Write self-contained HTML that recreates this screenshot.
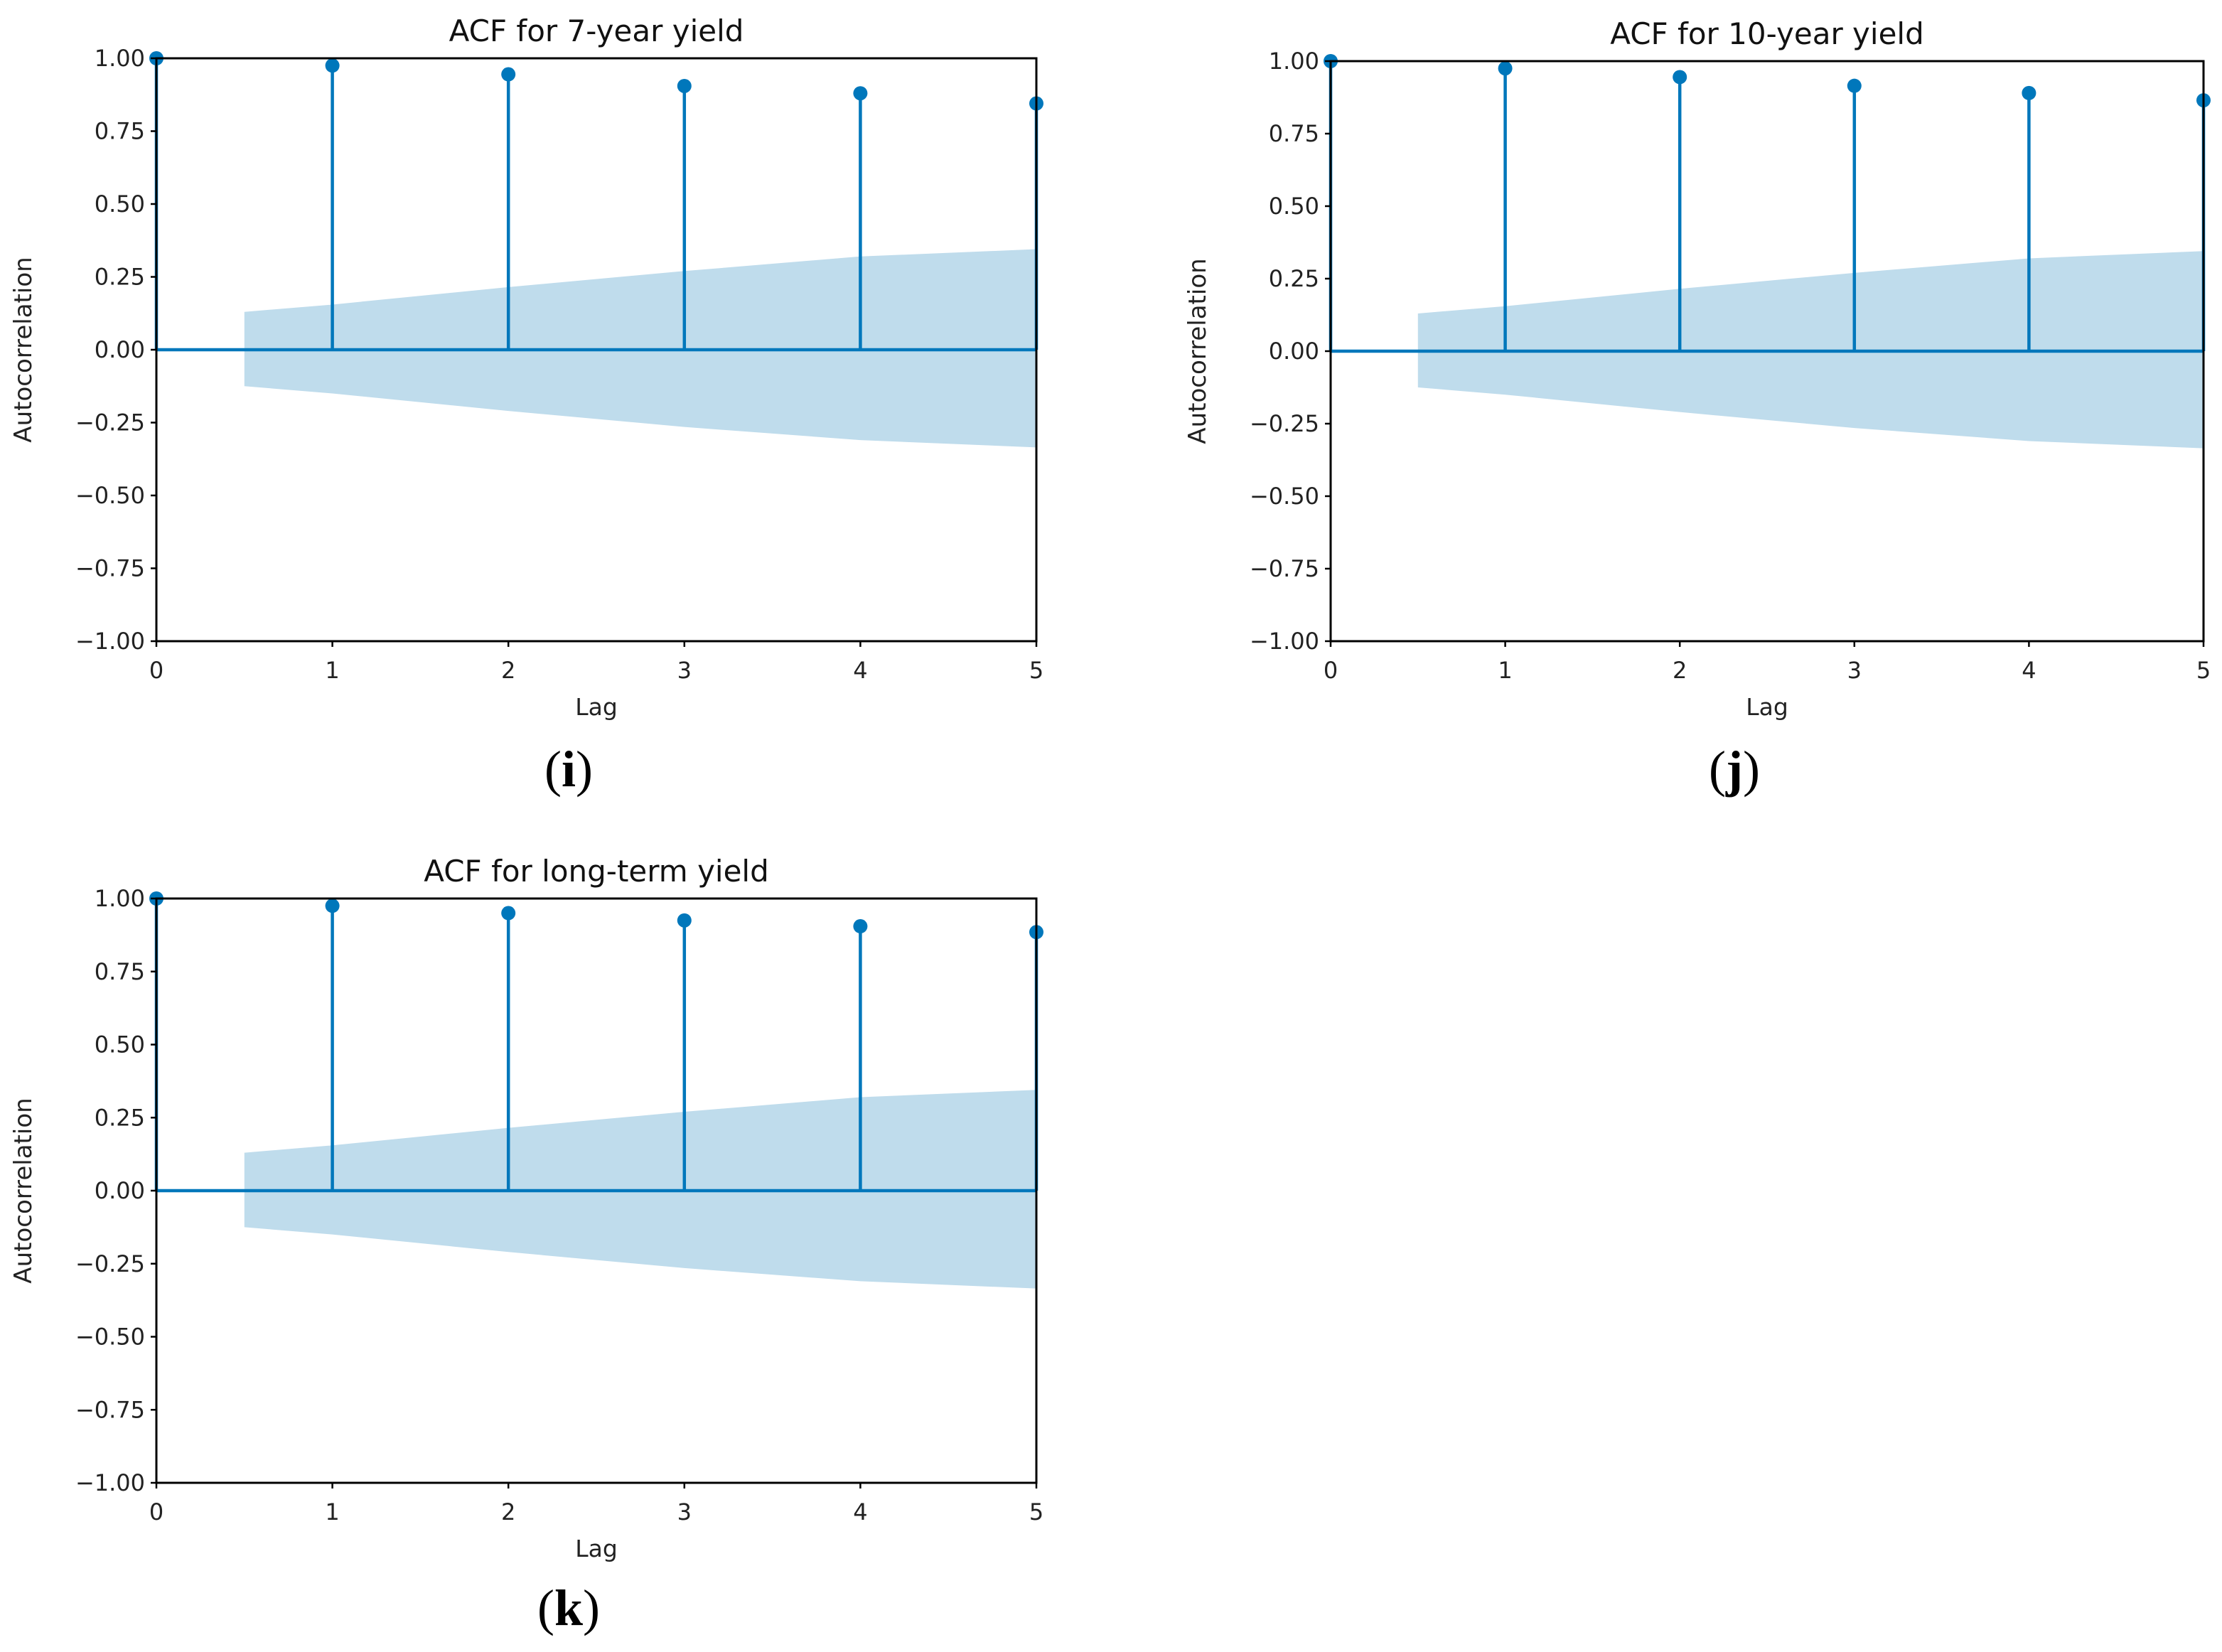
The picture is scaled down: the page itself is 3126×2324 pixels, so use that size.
<!DOCTYPE html>
<html><head><meta charset="utf-8"><style>
html,body{margin:0;padding:0;background:#fff;}
svg{display:block;font-family:"DejaVu Sans","Liberation Sans",sans-serif;}
</style></head><body>
<svg id="fig" width="3126" height="2324" viewBox="0 0 3126 2324"></svg>
<script>
const lags = [0,1,2,3,4,5];
const acf7 = [1.0,0.975,0.945,0.905,0.88,0.845];
const acf10 = [1.0,0.975,0.945,0.915,0.89,0.865];
const acfLong = [1.0,0.975,0.95,0.925,0.905,0.885];
const bandLags = [0.5,1,2,3,4,5];
const bandUpper = [0.13,0.155,0.215,0.27,0.32,0.345];
const bandLower = [-0.125,-0.15,-0.21,-0.265,-0.31,-0.335];
const yTicks = [1.0,0.75,0.5,0.25,0,-0.25,-0.5,-0.75,-1.0];
const yTickLabels = ["1.00","0.75","0.50","0.25","0.00","\u22120.25","\u22120.50","\u22120.75","\u22121.00"];
const xTickLabels = ["0","1","2","3","4","5"];

const NS="http://www.w3.org/2000/svg";
const svg=document.getElementById('fig');
function mk(tag,attrs,parent){const e=document.createElementNS(NS,tag);for(const k in attrs)e.setAttribute(k,attrs[k]);(parent||svg).appendChild(e);return e;}

function panel(key,title,vals,caption,L,R,T,B,capX,capY){
  const g=mk('g',{});
  
  
  const xs=v=>L+(v-0)/(5-0)*(R-L);
  const ys=v=>T+(1-v)/2*(B-T);
  let d='M'+xs(bandLags[0])+','+ys(bandUpper[0]);
  for(let i=1;i<bandLags.length;i++)d+=' L'+xs(bandLags[i])+','+ys(bandUpper[i]);
  for(let i=bandLags.length-1;i>=0;i--)d+=' L'+xs(bandLags[i])+','+ys(bandLower[i]);
  d+='Z';
  const band=mk('path',{d:d,fill:'#bfdcec'},g);
  
  
  const z=mk('line',{x1:L,x2:R,y1:ys(0),y2:ys(0),stroke:'#0077bb','stroke-width':4.5},g);
  
  
  for(let i=0;i<lags.length;i++){
    const s=mk('line',{x1:xs(lags[i]),x2:xs(lags[i]),y1:ys(0),y2:ys(vals[i]),stroke:'#0077bb','stroke-width':4.5},g);
    
    
    const c=mk('circle',{cx:xs(lags[i]),cy:ys(vals[i]),r:10,fill:'#0077bb'},g);
    
    
  }
  const f=mk('rect',{x:L,y:T,width:R-L,height:B-T,fill:'none',stroke:'#000','stroke-width':3},g);
  
  
  for(let i=0;i<yTicks.length;i++){
    const y=ys(yTicks[i]);
    mk('line',{x1:L-8,x2:L,y1:y,y2:y,stroke:'#000','stroke-width':2.5},g);
    const t=mk('text',{x:L-16,y:y+11,'text-anchor':'end','font-size':32,fill:'#222'},g);
    t.textContent=yTickLabels[i];
    
    
  }
  for(let i=0;i<lags.length;i++){
    const x=xs(lags[i]);
    mk('line',{x1:x,x2:x,y1:B,y2:B+8,stroke:'#000','stroke-width':2.5},g);
    const t=mk('text',{x:x,y:B+52,'text-anchor':'middle','font-size':32,fill:'#222'},g);
    t.textContent=xTickLabels[i];
    
    
  }
  const xl=mk('text',{x:(L+R)/2,y:B+104,'text-anchor':'middle','font-size':33,fill:'#222'},g);
  xl.textContent='Lag';
  
  
  const yc=(T+B)/2;
  const yl=mk('text',{x:0,y:0,transform:'translate('+(L-176)+','+yc+') rotate(-90)','text-anchor':'middle','font-size':34,fill:'#222'},g);
  yl.textContent='Autocorrelation';
  
  
  const tt=mk('text',{x:(L+R)/2,y:T-24,'text-anchor':'middle','font-size':42,fill:'#111'},g);
  tt.textContent=title;
  
  
  const cp=mk('text',{x:capX,y:capY,'text-anchor':'middle','font-size':72,'font-family':'"Liberation Serif",serif',fill:'#000'},g);
  cp.innerHTML='(<tspan font-weight="bold">'+caption+'</tspan>)';
  
  
}
panel('acf-7-year','ACF for 7-year yield',acf7,'i',220,1458,82,902,800,1106);
panel('acf-10-year','ACF for 10-year yield',acf10,'j',1872,3100,86,902,2440,1106);
panel('acf-long-term','ACF for long-term yield',acfLong,'k',220,1458,1264,2086,800,2286);
</script>
</body></html>
